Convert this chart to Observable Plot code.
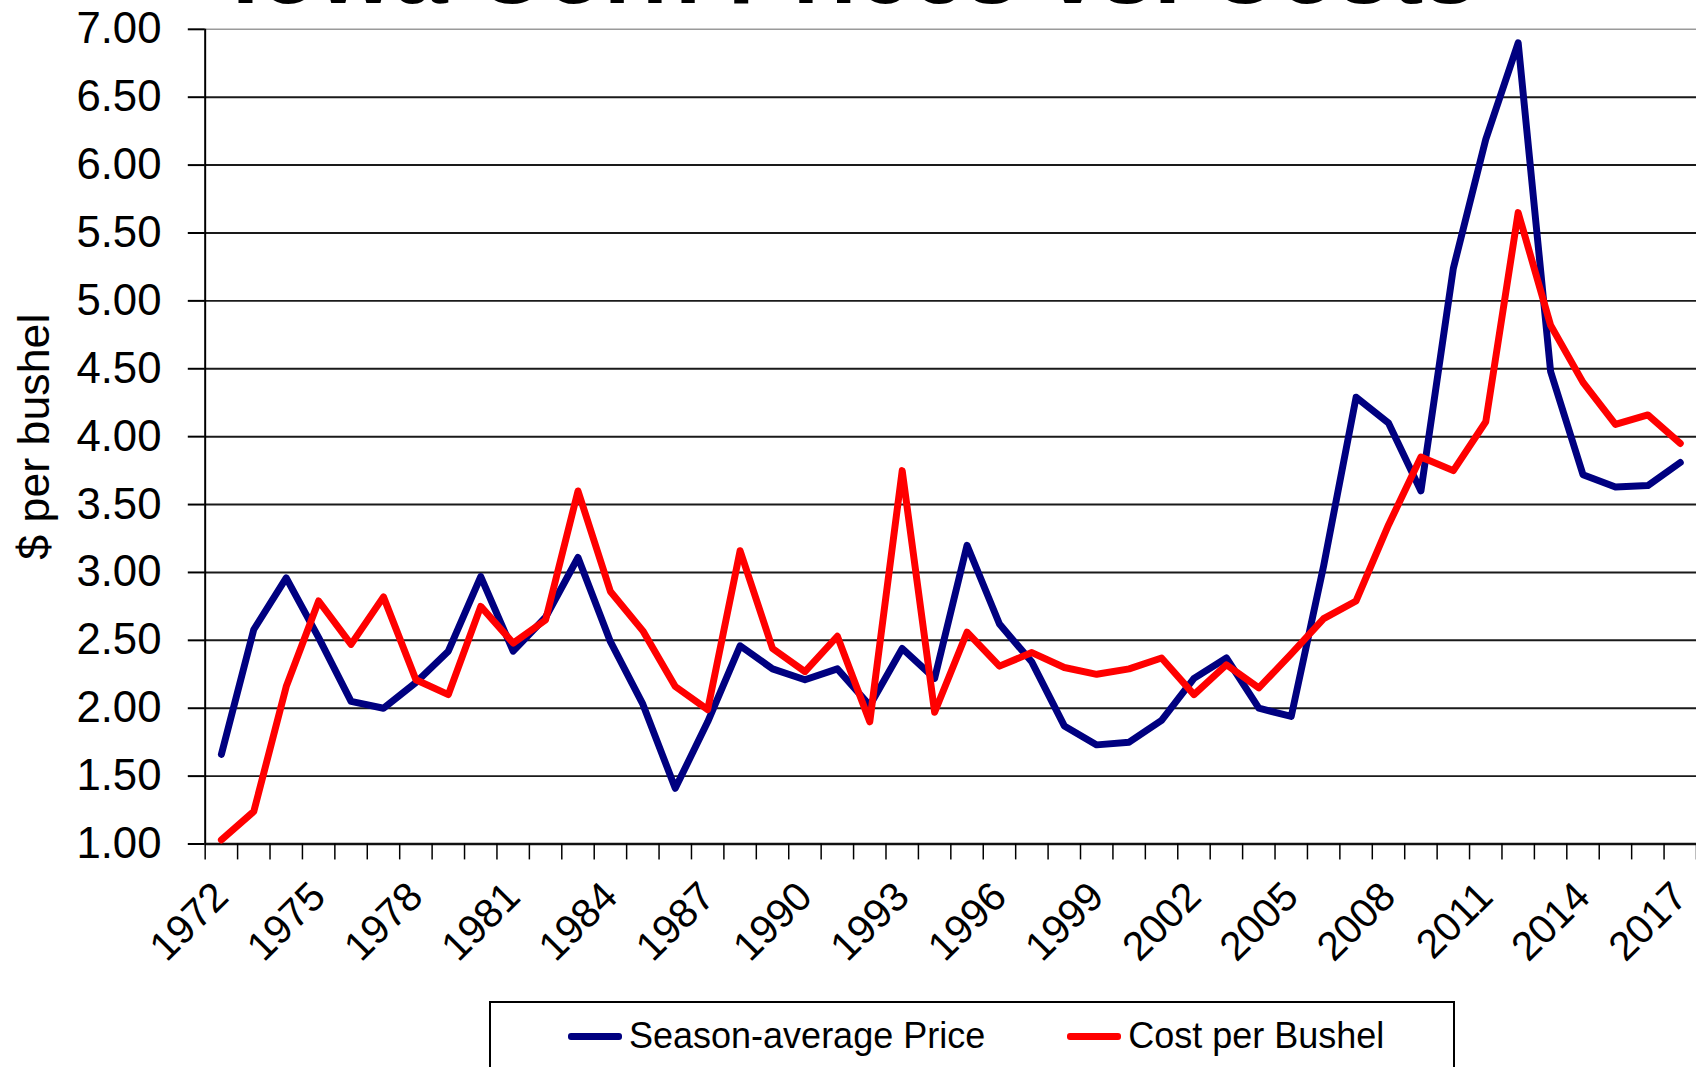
<!DOCTYPE html>
<html>
<head>
<meta charset="utf-8">
<script src="https://cdn.jsdelivr.net/npm/d3@7"></script>
<script src="https://cdn.jsdelivr.net/npm/@observablehq/plot@0.6"></script>
<style>
  html, body { margin: 0; padding: 0; background: #fff; overflow: hidden; width: 1696px; height: 1067px; }
  body { position: relative; font-family: "Liberation Sans", Arial, sans-serif; color: #000; }
  #title { position: absolute; left: 232px; top: -79px; font-size: 97px; line-height: 97px; font-weight: bold; white-space: nowrap; }
  #chart { position: absolute; left: 0; top: 0; }
  #legend { position: absolute; left: 489px; top: 1001px; width: 962px; height: 120px; border: 2px solid #000; box-sizing: content-box; background: #fff; }
  #legend .items { display: flex; align-items: center; padding-top: 15px; padding-left: 77px; font-size: 36px; line-height: 36px; }
  #legend .sw { display: inline-block; width: 54px; height: 7px; margin-right: 7px; border-radius: 3px; }
  #legend .gap { margin-left: 82px; }
</style>
</head>
<body>
<div id="chart"></div>
<div id="title">Iowa Corn Prices vs. Costs</div>
<div id="legend"></div>
<script>
// Categories (years)
const years = [1972, 1973, 1974, 1975, 1976, 1977, 1978, 1979, 1980, 1981,
               1982, 1983, 1984, 1985, 1986, 1987, 1988, 1989, 1990, 1991,
               1992, 1993, 1994, 1995, 1996, 1997, 1998, 1999, 2000, 2001,
               2002, 2003, 2004, 2005, 2006, 2007, 2008, 2009, 2010, 2011,
               2012, 2013, 2014, 2015, 2016, 2017];

// Season-average Price ($ per bushel)
const seasonAveragePrice = [1.66, 2.58, 2.96, 2.52, 2.05, 2.00, 2.19, 2.42, 2.97, 2.42,
                            2.67, 3.11, 2.49, 2.03, 1.41, 1.90, 2.46, 2.29, 2.21, 2.29,
                            2.02, 2.44, 2.22, 3.20, 2.62, 2.34, 1.87, 1.73, 1.75, 1.91,
                            2.22, 2.37, 2.00, 1.94, 3.05, 4.29, 4.10, 3.60, 5.24, 6.19,
                            6.90, 4.48, 3.72, 3.63, 3.64, 3.81];

// Cost per Bushel ($ per bushel)
const costPerBushel = [1.03, 1.24, 2.16, 2.79, 2.47, 2.82, 2.21, 2.10, 2.75, 2.48,
                       2.65, 3.60, 2.86, 2.57, 2.16, 1.99, 3.16, 2.44, 2.27, 2.53,
                       1.90, 3.75, 1.97, 2.56, 2.31, 2.41, 2.30, 2.25, 2.29, 2.37,
                       2.10, 2.32, 2.15, 2.40, 2.66, 2.79, 3.35, 3.85, 3.75, 4.11,
                       5.65, 4.82, 4.40, 4.09, 4.16, 3.95];

// Tick labels
const yTicks = [1.00, 1.50, 2.00, 2.50, 3.00, 3.50, 4.00, 4.50, 5.00, 5.50, 6.00, 6.50, 7.00];
const xLabelYears = [1972, 1975, 1978, 1981, 1984, 1987, 1990, 1993, 1996, 1999, 2002, 2005, 2008, 2011, 2014, 2017];

const seriesNames = ["Season-average Price", "Cost per Bushel"];
const seriesColors = ["#000080", "#ff0000"];

// Build tables
const priceData = years.map((year, i) => ({year, value: seasonAveragePrice[i]}));
const costData = years.map((year, i) => ({year, value: costPerBushel[i]}));
// category boundaries (tick marks between categories, Excel style)
const boundaries = years.map(y => y - 0.5).concat([years[years.length - 1] + 0.5]);
const xDomain = [boundaries[0], boundaries[boundaries.length - 1]];

const chart = Plot.plot({
  width: 1707,
  height: 1000,
  marginLeft: 206,
  marginRight: 0,
  marginTop: 29,
  marginBottom: 151,
  x: {type: "linear", domain: xDomain},
  y: {domain: [yTicks[0], yTicks[yTicks.length - 1]]},
  style: {fontFamily: "'Liberation Sans', Arial, sans-serif", color: "#000", background: "transparent", overflow: "visible"},
  marks: [
    Plot.ruleY(yTicks.slice(1, -1), {stroke: "#1a1a1a", strokeWidth: 2}),
    Plot.ruleY([yTicks[yTicks.length - 1]], {stroke: "#9a9a9a", strokeWidth: 1.5}),
    Plot.ruleX([xDomain[0]], {stroke: "#000", strokeWidth: 2}),
    Plot.ruleY([yTicks[0]], {stroke: "#111", strokeWidth: 2.5}),
    Plot.axisY({ticks: yTicks, tickSize: 17, tickPadding: 27, tickFormat: d => d.toFixed(2), fontSize: 44, strokeWidth: 2, label: null}),
    Plot.axisX({ticks: boundaries, tickSize: 16, tickFormat: () => "", strokeWidth: 1.5, label: null}),
    Plot.axisX({ticks: xLabelYears, tickSize: 0, tickPadding: 46, tickRotate: -45, fontSize: 41, tickFormat: d => String(d), label: null}),
    Plot.line(priceData, {x: "year", y: "value", stroke: seriesColors[0], strokeWidth: 7}),
    Plot.line(costData, {x: "year", y: "value", stroke: seriesColors[1], strokeWidth: 7}),
    Plot.text(["$ per bushel"], {frameAnchor: "left", textAnchor: "middle", dx: -172, rotate: -90, fontSize: 45})
  ]
});
document.getElementById("chart").appendChild(chart);

// Legend
const legend = d3.select("#legend").append("div").attr("class", "items");
seriesNames.forEach((name, i) => {
  const item = legend.append("span").style("display", "inline-flex").style("align-items", "center");
  if (i > 0) item.attr("class", "gap");
  item.append("span").attr("class", "sw").style("background", seriesColors[i]);
  item.append("span").text(name);
});
</script>
</body>
</html>
